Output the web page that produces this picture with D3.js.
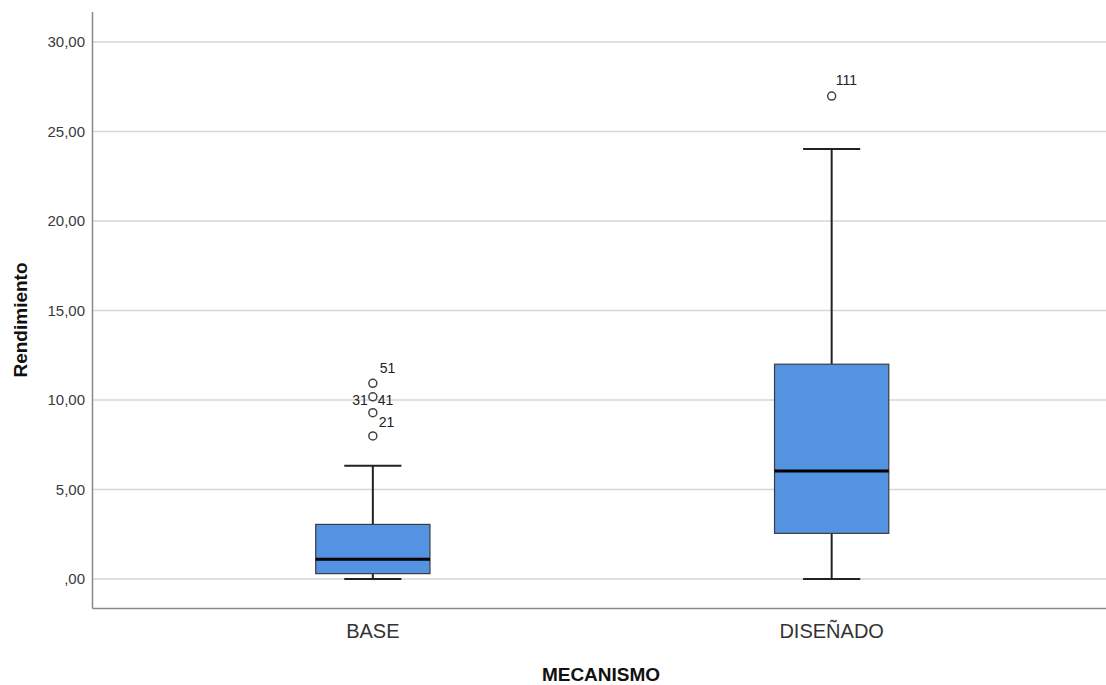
<!DOCTYPE html>
<html>
<head>
<meta charset="utf-8">
<script src="https://cdn.jsdelivr.net/npm/d3@7"></script>
<style>
  html, body { margin: 0; padding: 0; background: #fff; }
  svg { display: block; font-family: Arial, "Liberation Sans", sans-serif; }
</style>
</head>
<body>
<svg id="chart" width="1106" height="685"></svg>
<script>
// ---- data ----
const categories = ["BASE", "DISEÑADO"];
const whiskerLow = [0.0, 0.0];
const q1 = [0.30, 2.55];
const median = [1.10, 6.03];
const q3 = [3.05, 12.0];
const whiskerHigh = [6.33, 24.02];
const outlierCategory = ["BASE", "BASE", "BASE", "BASE", "DISEÑADO"];
const outlierValues = [10.93, 10.18, 9.29, 7.99, 26.98];
const labelIds = ["51", "31", "41", "21", "111"];
const labelOutlierIndex = [0, 1, 1, 2, 4];
const yTicks = [0, 5, 10, 15, 20, 25, 30];
const yTickLabels = [",00", "5,00", "10,00", "15,00", "20,00", "25,00", "30,00"];
const xTitle = "MECANISMO";
const yTitle = "Rendimiento";

// ---- layout ----
const labelPlacement = [
  { dx: 7, dy: -15, anchor: "start" },
  { dx: -5, dy: 3, anchor: "end" },
  { dx: 5, dy: 3, anchor: "start" },
  { dx: 6, dy: 9, anchor: "start" },
  { dx: 4, dy: -16, anchor: "start" }
];

(function () {
const svg = d3.select("#chart");
const plotLeft = 92.5, plotRight = 1112, plotTop = 12, plotBottom = 608.5;

const y = d3.scaleLinear().domain([0, 30]).range([579, 42]);
const x = d3.scalePoint().domain(categories).range([plotLeft, plotRight]).padding(0.611);
const boxW = x.step() * 0.249;
const capW = boxW / 2;

// gridlines
svg.append("g").selectAll("line").data(yTicks).join("line")
  .attr("x1", plotLeft).attr("x2", 1106)
  .attr("y1", d => y(d)).attr("y2", d => y(d))
  .attr("stroke", "#d6d6d6").attr("stroke-width", 1.5);

// y tick labels
svg.append("g").selectAll("text").data(yTicks).join("text")
  .attr("x", 85).attr("y", d => y(d))
  .attr("dy", "0.35em")
  .attr("text-anchor", "end")
  .attr("font-size", 15)
  .attr("fill", "#3a3a3a")
  .text((d, i) => yTickLabels[i]);

// axis lines
svg.append("line").attr("x1", plotLeft).attr("x2", plotLeft).attr("y1", plotTop).attr("y2", plotBottom)
  .attr("stroke", "#8a8a8a").attr("stroke-width", 1.5);
svg.append("line").attr("x1", plotLeft).attr("x2", 1106).attr("y1", plotBottom).attr("y2", plotBottom)
  .attr("stroke", "#8a8a8a").attr("stroke-width", 1.5);

// boxes
const boxes = categories.map((c, i) => ({
  c, lo: whiskerLow[i], q1: q1[i], med: median[i], q3: q3[i], hi: whiskerHigh[i]
}));
const g = svg.append("g").selectAll("g").data(boxes).join("g");

// whiskers
g.append("line")
  .attr("x1", d => x(d.c)).attr("x2", d => x(d.c))
  .attr("y1", d => y(d.q3)).attr("y2", d => y(d.hi))
  .attr("stroke", "#222").attr("stroke-width", 2);
g.append("line")
  .attr("x1", d => x(d.c)).attr("x2", d => x(d.c))
  .attr("y1", d => y(d.q1)).attr("y2", d => y(d.lo))
  .attr("stroke", "#222").attr("stroke-width", 2);
g.append("line")
  .attr("x1", d => x(d.c) - capW / 2).attr("x2", d => x(d.c) + capW / 2)
  .attr("y1", d => y(d.hi)).attr("y2", d => y(d.hi))
  .attr("stroke", "#222").attr("stroke-width", 2);
g.append("line")
  .attr("x1", d => x(d.c) - capW / 2).attr("x2", d => x(d.c) + capW / 2)
  .attr("y1", d => y(d.lo)).attr("y2", d => y(d.lo))
  .attr("stroke", "#222").attr("stroke-width", 2);

// box
g.append("rect")
  .attr("x", d => x(d.c) - boxW / 2)
  .attr("width", boxW)
  .attr("y", d => y(d.q3))
  .attr("height", d => y(d.q1) - y(d.q3))
  .attr("fill", "#5393e2")
  .attr("stroke", "#3c3c3c").attr("stroke-width", 1.2);

// median
g.append("line")
  .attr("x1", d => x(d.c) - boxW / 2).attr("x2", d => x(d.c) + boxW / 2)
  .attr("y1", d => y(d.med)).attr("y2", d => y(d.med))
  .attr("stroke", "#000").attr("stroke-width", 3);

// outliers
svg.append("g").selectAll("circle").data(outlierValues).join("circle")
  .attr("cx", (d, i) => x(outlierCategory[i]))
  .attr("cy", d => y(d))
  .attr("r", 4)
  .attr("fill", "#fff")
  .attr("stroke", "#444").attr("stroke-width", 1.5);

// outlier labels
svg.append("g").selectAll("text").data(labelIds).join("text")
  .attr("x", (d, i) => x(outlierCategory[labelOutlierIndex[i]]) + labelPlacement[i].dx)
  .attr("y", (d, i) => y(outlierValues[labelOutlierIndex[i]]) + labelPlacement[i].dy)
  .attr("dy", "0.35em")
  .attr("text-anchor", (d, i) => labelPlacement[i].anchor)
  .attr("font-size", 14)
  .attr("fill", "#222")
  .text(d => d);

// category labels
svg.append("g").selectAll("text").data(categories).join("text")
  .attr("x", d => x(d)).attr("y", 638)
  .attr("text-anchor", "middle")
  .attr("font-size", 20)
  .attr("fill", "#333")
  .text(d => d);

// axis titles
svg.append("text")
  .attr("x", 601).attr("y", 681)
  .attr("text-anchor", "middle")
  .attr("font-size", 19).attr("font-weight", "bold")
  .attr("fill", "#111")
  .text(xTitle);

svg.append("text")
  .attr("transform", "translate(27,320) rotate(-90)")
  .attr("text-anchor", "middle")
  .attr("font-size", 19).attr("font-weight", "bold")
  .attr("fill", "#111")
  .text(yTitle);
})();
</script>
</body>
</html>
